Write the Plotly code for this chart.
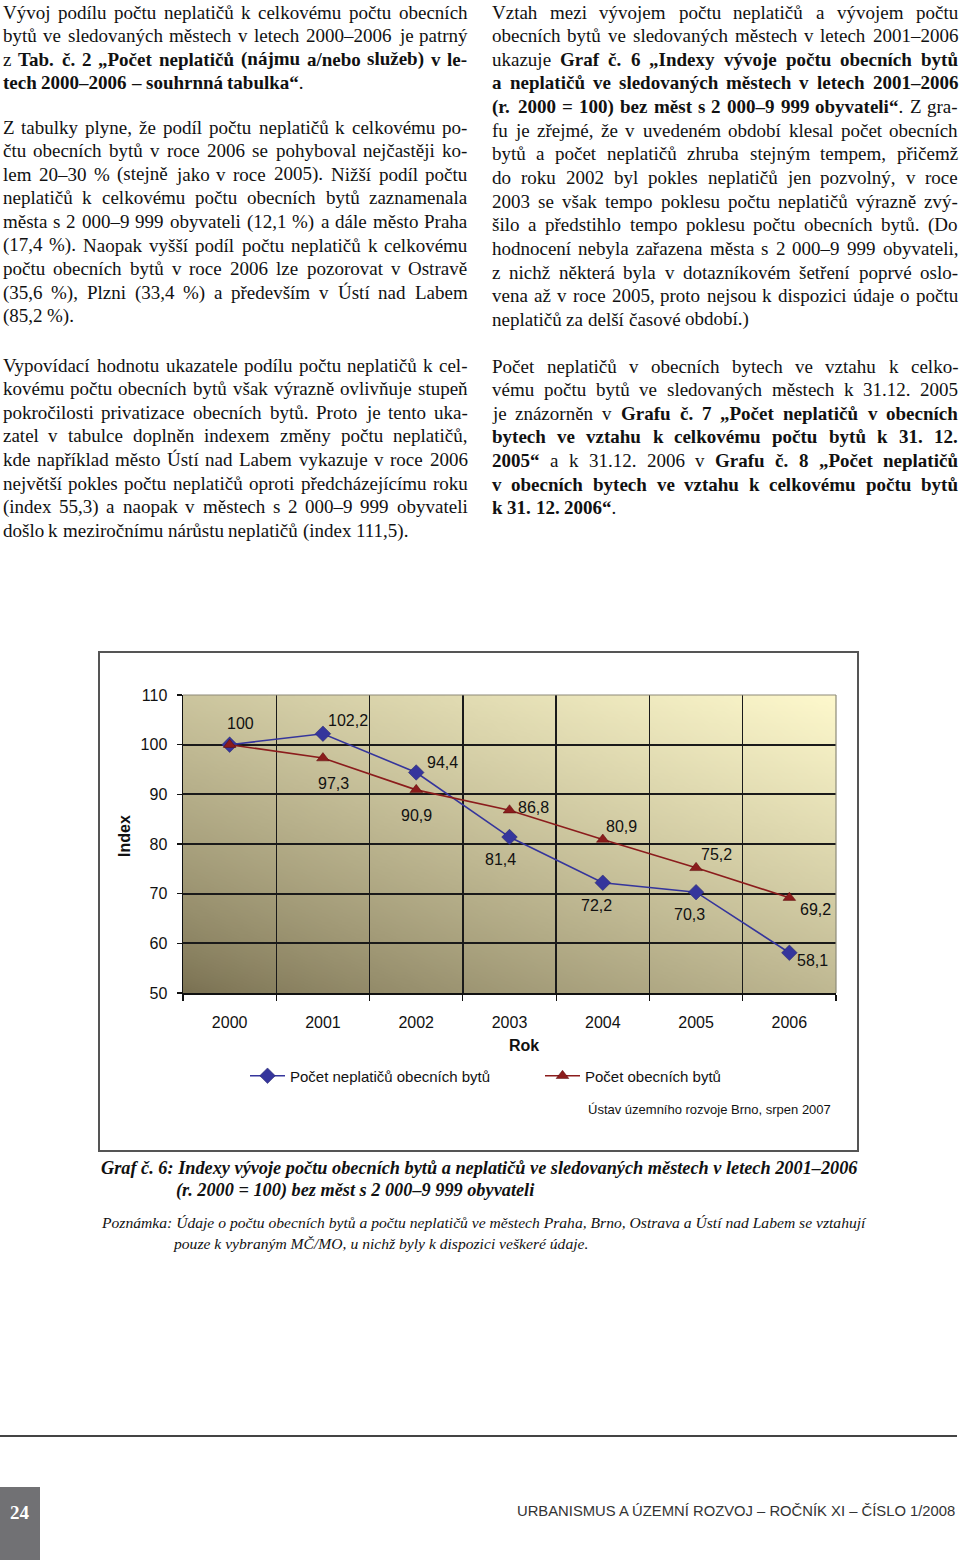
import base64, struct, zlib, unicodedata
import plotly.graph_objects as go

# ---------------- data ----------------
YEARS = [2000, 2001, 2002, 2003, 2004, 2005, 2006]
NEPLATICI = [100, 102.2, 94.4, 81.4, 72.2, 70.3, 58.1]
BYTY = [100, 97.3, 90.9, 86.8, 80.9, 75.2, 69.2]
Y_TICKS = [50, 60, 70, 80, 90, 100, 110]
SERIES_NAMES = ['Počet neplatičů obecních bytů', 'Počet obecních bytů']
X_TITLE = 'Rok'
Y_TITLE = 'Index'
SOURCE = 'Ústav územního rozvoje Brno, srpen 2007'

CAPTION = ['Graf č. 6: Indexy vývoje počtu obecních bytů a neplatičů ve sledovaných městech v letech 2001–2006',
           '(r. 2000 = 100) bez měst s 2 000–9 999 obyvateli']
NOTE = ['Poznámka: Údaje o počtu obecních bytů a počtu neplatičů ve městech Praha, Brno, Ostrava a Ústí nad Labem se vztahují',
        'pouze k vybraným MČ/MO, u nichž byly k dispozici veškeré údaje.']
PAGE_NO = '24'
FOOTER = 'URBANISMUS A ÚZEMNÍ ROZVOJ – ROČNÍK XI – ČÍSLO 1/2008'

LEFT_P1 = ['Vývoj podílu počtu neplatičů k celkovému počtu obecních',
           'bytů ve sledovaných městech v letech 2000–2006 je patrný',
           'z **Tab. č. 2 „Počet neplatičů (nájmu a/nebo služeb) v le-**',
           '**tech 2000–2006 – souhrnná tabulka“**.']
LEFT_P2 = ['Z tabulky plyne, že podíl počtu neplatičů k celkovému po-',
           'čtu obecních bytů v roce 2006 se pohyboval nejčastěji ko-',
           'lem 20–30 % (stejně jako v roce 2005). Nižší podíl počtu',
           'neplatičů k celkovému počtu obecních bytů zaznamenala',
           'města s 2 000–9 999 obyvateli (12,1 %) a dále město Praha',
           '(17,4 %). Naopak vyšší podíl počtu neplatičů k celkovému',
           'počtu obecních bytů v roce 2006 lze pozorovat v Ostravě',
           '(35,6 %), Plzni (33,4 %) a především v Ústí nad Labem',
           '(85,2 %).']
LEFT_P3 = ['Vypovídací hodnotu ukazatele podílu počtu neplatičů k cel-',
           'kovému počtu obecních bytů však výrazně ovlivňuje stupeň',
           'pokročilosti privatizace obecních bytů. Proto je tento uka-',
           'zatel v tabulce doplněn indexem změny počtu neplatičů,',
           'kde například město Ústí nad Labem vykazuje v roce 2006',
           'největší pokles počtu neplatičů oproti předcházejícímu roku',
           '(index 55,3) a naopak v městech s 2 000–9 999 obyvateli',
           'došlo k meziročnímu nárůstu neplatičů (index 111,5).']
RIGHT_P1 = ['Vztah mezi vývojem počtu neplatičů a vývojem počtu',
            'obecních bytů ve sledovaných městech v letech 2001–2006',
            'ukazuje **Graf č. 6 „Indexy vývoje počtu obecních bytů**',
            '**a neplatičů ve sledovaných městech v letech 2001–2006**',
            '**(r. 2000 = 100) bez měst s 2 000–9 999 obyvateli“**. Z gra-',
            'fu je zřejmé, že v uvedeném období klesal počet obecních',
            'bytů a počet neplatičů zhruba stejným tempem, přičemž',
            'do roku 2002 byl pokles neplatičů jen pozvolný, v roce',
            '2003 se však tempo poklesu počtu neplatičů výrazně zvý-',
            'šilo a předstihlo tempo poklesu počtu obecních bytů. (Do',
            'hodnocení nebyla zařazena města s 2 000–9 999 obyvateli,',
            'z nichž některá byla v dotazníkovém šetření poprvé oslo-',
            'vena až v roce 2005, proto nejsou k dispozici údaje o počtu',
            'neplatičů za delší časové období.)']
RIGHT_P2 = ['Počet neplatičů v obecních bytech ve vztahu k celko-',
            'vému počtu bytů ve sledovaných městech k 31.12. 2005',
            'je znázorněn v **Grafu č. 7 „Počet neplatičů v obecních**',
            '**bytech ve vztahu k celkovému počtu bytů k 31. 12.**',
            '**2005“** a k 31.12. 2006 v **Grafu č. 8 „Počet neplatičů**',
            '**v obecních bytech ve vztahu k celkovému počtu bytů**',
            '**k 31. 12. 2006“**.']

# ---------------- styling / geometry ----------------
W, H = 960, 1560
PL, PR, PT, PB = 183, 836, 695, 993
SERIF = 'Liberation Serif, Times New Roman, serif'
SANS = 'Liberation Sans, Arial, sans-serif'
BLUE = '#35359c'
RED = '#8b1c1c'
TEXT_SIZE = 19
LINE_STEP = 23.65

NEPL_OFFS = [(11, -21), (25, -13), (26, -10), (-9, 22), (-6, 23), (-7, 22), (23, 8)]
BYTY_OFFS = [None, (11, 25), (0, 26), (24, -3), (19, -13), (20, -13), (26, 12)]


def px(x):
    return (x - PL) / (PR - PL)


def py(y):
    return (PB - y) / (PB - PT)


# Times metrics (units per 1000 em)
_REG = dict(zip(' !"%()*+,-./0123456789:;=?', [250, 333, 408, 833, 333, 333, 500, 564, 250, 333, 250, 278] + [500] * 10 + [278, 278, 564, 444]))
_REG.update(dict(zip('ABCDEFGHIJKLMNOPQRSTUVWXYZ', [722, 667, 667, 722, 611, 556, 722, 722, 333, 389, 722, 611, 889, 722, 722, 556, 722, 667, 556, 611, 722, 722, 944, 722, 722, 611])))
_REG.update(dict(zip('abcdefghijklmnopqrstuvwxyz', [444, 500, 444, 500, 444, 333, 500, 500, 278, 278, 500, 278, 778, 500, 500, 500, 500, 333, 389, 278, 500, 500, 722, 500, 500, 444])))
_REG.update({'–': 500, '„': 444, '“': 444})
_BOLD = dict(zip(' !"%()*+,-./0123456789:;=?', [250, 333, 555, 1000, 333, 333, 500, 570, 250, 333, 250, 278] + [500] * 10 + [333, 333, 570, 500]))
_BOLD.update(dict(zip('ABCDEFGHIJKLMNOPQRSTUVWXYZ', [722, 667, 722, 722, 667, 611, 778, 778, 389, 500, 778, 667, 944, 722, 778, 611, 778, 722, 556, 667, 722, 722, 1000, 722, 722, 667])))
_BOLD.update(dict(zip('abcdefghijklmnopqrstuvwxyz', [500, 556, 444, 556, 444, 333, 500, 556, 278, 333, 556, 278, 833, 556, 500, 556, 556, 444, 389, 333, 556, 500, 722, 500, 500, 444])))
_BOLD.update({'–': 500, '„': 500, '“': 500})


def cw(ch, bold):
    t = _BOLD if bold else _REG
    if ch in t:
        return t[ch]
    b = unicodedata.normalize('NFD', ch)[0]
    return t.get(b, 500)


def str_units(s, bold):
    return sum(cw(c, bold) for c in s)


def parse_words(line):
    words, cur, bold, i = [], [], False, 0
    while i < len(line):
        if line.startswith('**', i):
            bold = not bold
            i += 2
            continue
        ch = line[i]
        if ch == ' ':
            if cur:
                words.append(cur)
                cur = []
        else:
            cur.append((ch, bold))
        i += 1
    if cur:
        words.append(cur)
    return words


def word_html(word):
    out, curb = '', False
    for ch, b in word:
        if b and not curb:
            out += '<b>'
        elif curb and not b:
            out += '</b>'
        curb = b
        out += ch
    if curb:
        out += '</b>'
    return out


annotations = []


def add_paragraph(lines, x_left, x_right, y0):
    for k, line in enumerate(lines):
        y = y0 + k * LINE_STEP
        words = parse_words(line)
        widths = [sum(cw(c, b) for c, b in w) * TEXT_SIZE / 1000 for w in words]
        sp = 250 * TEXT_SIZE / 1000
        last = (k == len(lines) - 1)
        if not last and len(words) > 1:
            gap = (x_right - x_left - sum(widths)) / (len(words) - 1)
        else:
            gap = sp
        x = x_left
        for w, wd in zip(words, widths):
            annotations.append(dict(text=word_html(w), x=px(x), y=py(y), xref='paper', yref='paper',
                                    xanchor='left', yanchor='middle', showarrow=False, borderpad=0,
                                    font=dict(family=SERIF, size=TEXT_SIZE, color='#111')))
            x += wd + gap


add_paragraph(LEFT_P1, 1.5, 466.5, 12)
add_paragraph(LEFT_P2, 1.5, 466.5, 127)
add_paragraph(LEFT_P3, 1.5, 466.5, 365)
add_paragraph(RIGHT_P1, 491, 957, 12)
add_paragraph(RIGHT_P2, 491, 957, 366)

# ---------------- gradient background image ----------------
DARK = (122, 113, 82)
LIGHT = (253, 248, 204)


def gradient_png(w, h):
    raw = bytearray()
    for j in range(h):
        v = 1 - j / (h - 1)
        raw.append(0)
        for i in range(w):
            u = i / (w - 1)
            t = (0.45 * u + 0.55 * v) ** 0.8
            raw += bytes(int(round(DARK[c] + (LIGHT[c] - DARK[c]) * t)) for c in range(3))

    def chunk(tag, data):
        return struct.pack('>I', len(data)) + tag + data + struct.pack('>I', zlib.crc32(tag + data) & 0xffffffff)

    png = (b'\x89PNG\r\n\x1a\n' + chunk(b'IHDR', struct.pack('>IIBBBBB', w, h, 8, 2, 0, 0, 0))
           + chunk(b'IDAT', zlib.compress(bytes(raw), 9)) + chunk(b'IEND', b''))
    return 'data:image/png;base64,' + base64.b64encode(png).decode()


# ---------------- figure ----------------
fig = go.Figure()
fig.add_trace(go.Scatter(x=YEARS, y=NEPLATICI, name=SERIES_NAMES[0], mode='lines+markers',
                         line=dict(color=BLUE, width=1.6),
                         marker=dict(symbol='diamond', size=12, color=BLUE, line=dict(color='#222266', width=0.5))))
fig.add_trace(go.Scatter(x=YEARS, y=BYTY, name=SERIES_NAMES[1], mode='lines+markers',
                         line=dict(color=RED, width=1.6),
                         marker=dict(symbol='triangle-up', size=11, color=RED, line=dict(color='#5a0a0a', width=0.5))))


def fmt(v):
    return ('%g' % v).replace('.', ',')


for vals, offs in ((NEPLATICI, NEPL_OFFS), (BYTY, BYTY_OFFS)):
    for yr, v, o in zip(YEARS, vals, offs):
        if o is None:
            continue
        annotations.append(dict(text=fmt(v), x=yr, y=v, xref='x', yref='y', showarrow=False,
                                xanchor='center', yanchor='middle',
                                xshift=o[0], yshift=-o[1], font=dict(family=SANS, size=16, color='#111')))

# chart texts
annotations += [
    dict(text='<b>' + X_TITLE + '</b>', x=px(524), y=py(1045), xref='paper', yref='paper', showarrow=False,
         xanchor='center', yanchor='middle', font=dict(family=SANS, size=16, color='#111')),
    dict(text='<b>' + Y_TITLE + '</b>', x=px(124), y=py(836), xref='paper', yref='paper', showarrow=False,
         xanchor='center', yanchor='middle', textangle=-90, font=dict(family=SANS, size=16, color='#111')),
    dict(text=SOURCE, x=px(833), y=py(1109), xref='paper', yref='paper', xanchor='right', yanchor='middle',
         showarrow=False, font=dict(family=SANS, size=13, color='#111')),
]

# captions
cap_fs = 758 / (str_units(CAPTION[0], True) * 0.97 / 1000)
note_fs = 758 / (str_units(NOTE[0], False) / 1000)
for txt, x, y, fs, pre, post in ((CAPTION[0], 100, 1168, cap_fs, '<b><i>', '</i></b>'),
                                 (CAPTION[1], 175, 1190, cap_fs, '<b><i>', '</i></b>'),
                                 (NOTE[0], 100, 1222, note_fs, '<i>', '</i>'),
                                 (NOTE[1], 172, 1243, note_fs, '<i>', '</i>')):
    annotations.append(dict(text=pre + txt + post, x=px(x), y=py(y), xref='paper', yref='paper',
                            xanchor='left', yanchor='middle', showarrow=False, borderpad=0,
                            font=dict(family=SERIF, size=fs, color='#111')))

# footer
annotations += [
    dict(text='<b>' + PAGE_NO + '</b>', x=px(20), y=py(1512), xref='paper', yref='paper', showarrow=False,
         xanchor='center', yanchor='middle', font=dict(family=SERIF, size=19, color='white')),
    dict(text=FOOTER, x=px(957), y=py(1511), xref='paper', yref='paper', xanchor='right', yanchor='middle',
         showarrow=False, font=dict(family=SANS, size=14.8, color='#333')),
]

shapes = [
    dict(type='rect', xref='paper', yref='paper', x0=px(99), x1=px(858), y0=py(1151), y1=py(652),
         line=dict(color='#555', width=2), layer='below'),
    dict(type='line', xref='paper', yref='paper', x0=0, x1=1, y0=1, y1=1, line=dict(color='#8d8a78', width=1.2), layer='above'),
    dict(type='line', xref='paper', yref='paper', x0=1, x1=1, y0=0, y1=1, line=dict(color='#8d8a78', width=1.2), layer='above'),
    dict(type='line', xref='paper', yref='paper', x0=px(0), x1=px(957), y0=py(1436), y1=py(1436),
         line=dict(color='#444', width=2)),
    dict(type='rect', xref='paper', yref='paper', x0=px(0), x1=px(40), y0=py(1560), y1=py(1487),
         fillcolor='#717174', line=dict(width=0), layer='below'),
]

fig.update_layout(
    width=W, height=H, autosize=False,
    margin=dict(l=PL, r=W - PR, t=PT, b=H - PB, pad=0),
    paper_bgcolor='white', plot_bgcolor='rgba(0,0,0,0)',
    showlegend=True,
    legend=dict(orientation='h', x=px(245), y=py(1076), xanchor='left', yanchor='middle',
                font=dict(family=SANS, size=15, color='#111'), bgcolor='rgba(0,0,0,0)',
                itemwidth=35, entrywidth=245, entrywidthmode='pixels', traceorder='normal'),
    xaxis=dict(range=[YEARS[0] - 0.5, YEARS[-1] + 0.5], tickmode='array', tickvals=YEARS,
               ticktext=[str(y) for y in YEARS], ticks='', showgrid=False, zeroline=False,
               minor=dict(tick0=YEARS[0] - 0.5, dtick=1, ticks='outside', ticklen=6, tickcolor='#111',
                          tickwidth=1.2, showgrid=True, gridcolor='#1a1a1a', gridwidth=1.4),
               showline=True, linecolor='#111', linewidth=1.5,
               tickfont=dict(family=SANS, size=16, color='#111'), ticklabelstandoff=14,
               fixedrange=True),
    yaxis=dict(range=[50, 110], tickmode='array', tickvals=Y_TICKS,
               ticks='outside', ticklen=5, tickcolor='#111', tickwidth=1.2,
               showgrid=True, gridcolor='#1a1a1a', gridwidth=1.7, zeroline=False,
               showline=True, linecolor='#111', linewidth=1.5,
               tickfont=dict(family=SANS, size=16, color='#111'), ticklabelstandoff=6,
               fixedrange=True),
    images=[dict(source=gradient_png(96, 48), xref='paper', yref='paper', x=0, y=1, sizex=1, sizey=1,
                 xanchor='left', yanchor='top', sizing='stretch', layer='below')],
    annotations=annotations,
    shapes=shapes,
)

fig.write_html('out.html', config={'displayModeBar': False, 'staticPlot': True},
               post_script="document.body.style.margin='0px';")
